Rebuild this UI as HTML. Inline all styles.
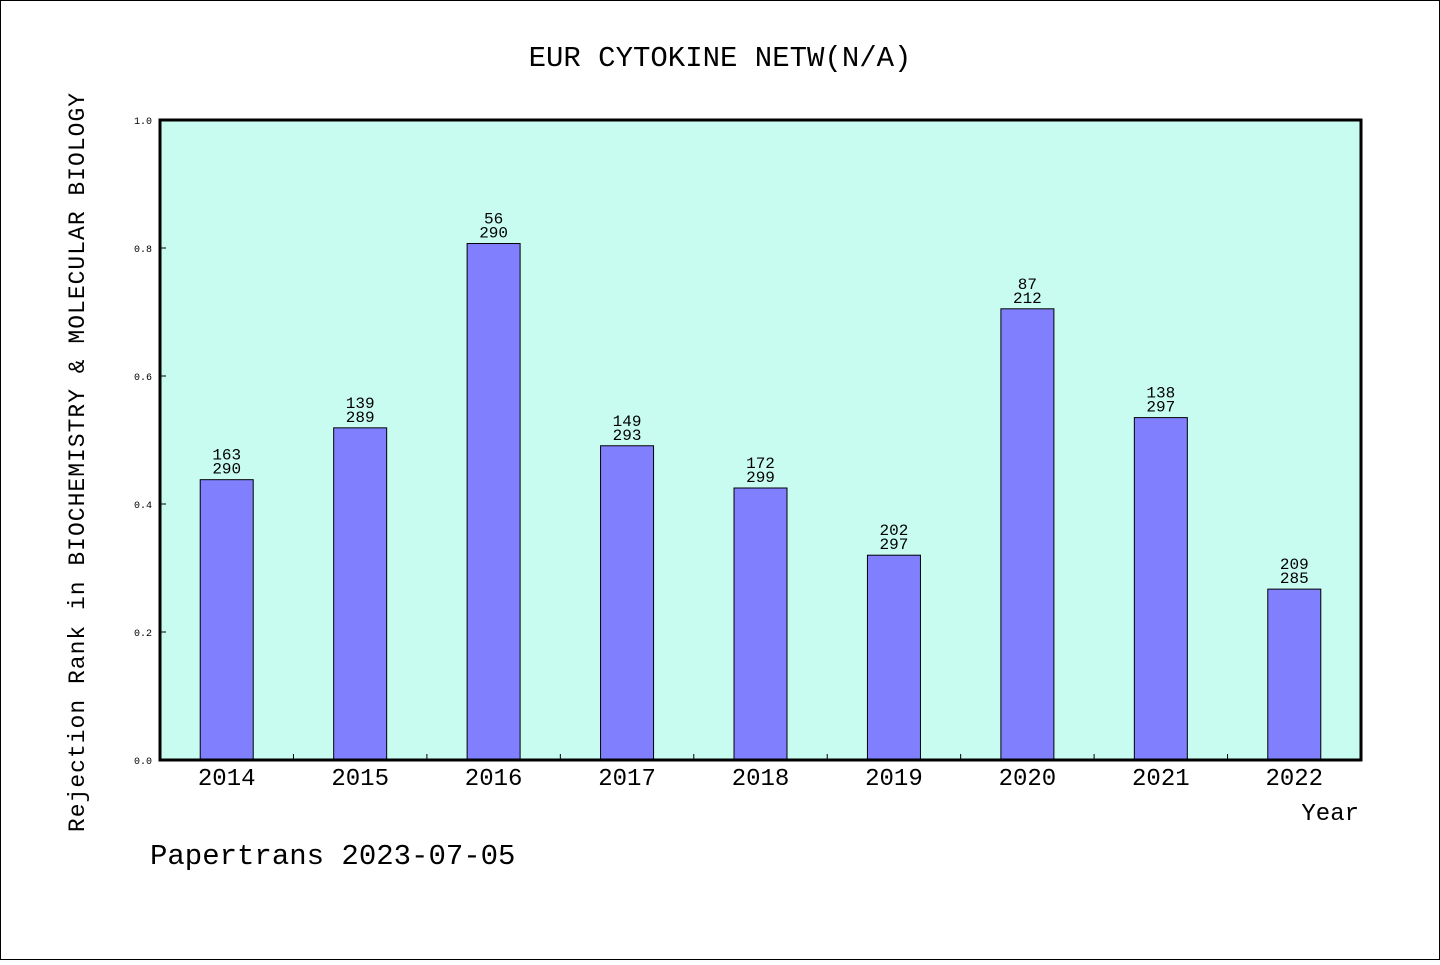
<!DOCTYPE html>
<html><head><meta charset="utf-8"><style>
html,body{margin:0;padding:0;background:#fff}
svg text{font-family:"Liberation Mono",monospace;fill:#000}
</style></head><body>
<svg id="chart" width="1440" height="960" xmlns="http://www.w3.org/2000/svg">
<rect x="0.5" y="0.5" width="1439" height="959" fill="#fff" stroke="#000"/>
<text x="720" y="66" font-size="29" text-anchor="middle">EUR CYTOKINE NETW(N/A)</text>
<rect x="160" y="120" width="1201" height="640" fill="#c8fcf0"/>
<g id="bars"></g>
<g id="ticks"></g>
<rect x="160" y="120" width="1201" height="640" fill="none" stroke="#000" stroke-width="3"/>
<text transform="translate(84,462) rotate(-90)" font-size="23" text-anchor="middle" letter-spacing="1">Rejection Rank in BIOCHEMISTRY &amp; MOLECULAR BIOLOGY</text>
<text x="1359" y="820" font-size="24" text-anchor="end">Year</text>
<text x="150" y="864" font-size="29">Papertrans 2023-07-05</text>
</svg>
<script>
const years=['2014','2015','2016','2017','2018','2019','2020','2021','2022'];
const ranks=[163,139,56,149,172,202,87,138,209];
const totals=[290,289,290,293,299,297,212,297,285];
const values=[0.438,0.519,0.807,0.491,0.425,0.320,0.705,0.535,0.267];
const yTicks=[0,0.2,0.4,0.6,0.8,1.0];
const X0=160,X1=1361,Y0=760,Y1=120;
const NS='http://www.w3.org/2000/svg';
const step=(X1-X0)/years.length;
const xc=i=>X0+step*(i+0.5);
const ys=v=>Y0-(Y0-Y1)*v;
function mk(t,a,p){const e=document.createElementNS(NS,t);for(const k in a)e.setAttribute(k,a[k]);p.appendChild(e);return e;}
const bars=document.getElementById('bars'),ticks=document.getElementById('ticks');
years.forEach((y,i)=>{
  const v=values[i];
  const r=mk('rect',{x:xc(i)-26.5,y:ys(v),width:53,height:Y0-ys(v),fill:'#8080ff',stroke:'#000','stroke-width':1},bars);
  
  
  const t1=mk('text',{x:xc(i),y:ys(v)-20,'font-size':16,'text-anchor':'middle'},bars);t1.textContent=ranks[i];
  
  
  const t2=mk('text',{x:xc(i),y:ys(v)-6,'font-size':16,'text-anchor':'middle'},bars);t2.textContent=totals[i];
  
  
  const xl=mk('text',{x:xc(i),y:785,'font-size':24,'text-anchor':'middle'},ticks);xl.textContent=y;
  
  
  if(i>0){const l=mk('line',{x1:X0+step*i,x2:X0+step*i,y1:Y0,y2:Y0-6,stroke:'#000'},ticks);
    
    }
});
yTicks.forEach(v=>{
  const l=mk('line',{x1:X0,x2:X0+6,y1:ys(v),y2:ys(v),stroke:'#000'},ticks);
  
  
  const t=mk('text',{x:152,y:ys(v)+4,'font-size':10,'text-anchor':'end'},ticks);t.textContent=v.toFixed(1);
  
  
});
</script>
</body></html>
